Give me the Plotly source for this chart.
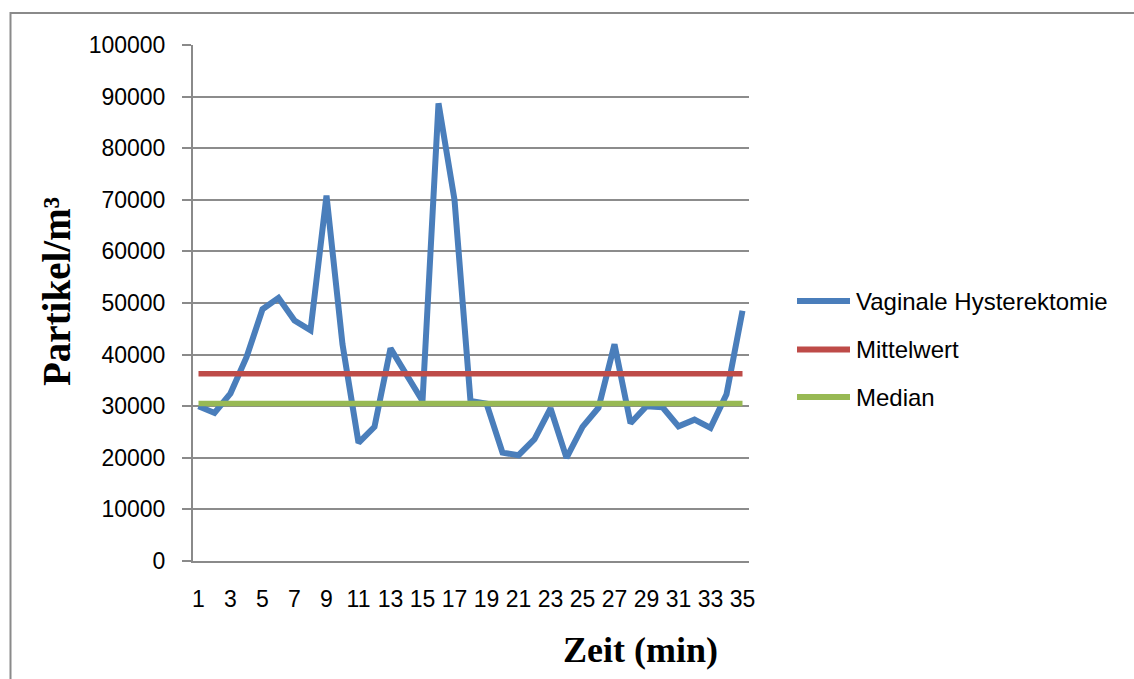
import numpy as np
import plotly.graph_objects as go

# Particle counts per minute during the procedure
minutes = list(range(1, 36))
particles = [
    30000, 28700, 32500, 39500, 48800, 51000, 46600, 44700, 70800, 42000,
    22900, 26000, 41200, 36000, 31000, 88700, 70000, 31000, 30500, 21000,
    20500, 23600, 29600, 20000, 26000, 29700, 42000, 26700, 30000, 29800,
    26100, 27400, 25800, 32300, 48500,
]
series_names = ["Vaginale Hysterektomie", "Mittelwert", "Median"]
series_colors = ["#4A7EBB", "#BE4B48", "#98B954"]
y_ticks = list(range(0, 100001, 10000))
x_ticks = list(range(1, 36, 2))

mean_val = float(np.mean(particles))
median_val = float(np.median(particles))

# plot area in pixels (page is 1134 x 679)
W, H = 1134, 679
L, R, T, B = 193, 749, 45, 561


def px(x):
    return (x - L) / (R - L)


def py(y):
    return (B - y) / (B - T)


fig = go.Figure()
fig.add_trace(go.Scatter(
    x=minutes, y=particles, mode="lines", name=series_names[0],
    line=dict(color=series_colors[0], width=6), showlegend=False,
))
fig.add_trace(go.Scatter(
    x=minutes, y=[mean_val] * len(minutes), mode="lines", name=series_names[1],
    line=dict(color=series_colors[1], width=5.5), showlegend=False,
))
fig.add_trace(go.Scatter(
    x=minutes, y=[median_val] * len(minutes), mode="lines", name=series_names[2],
    line=dict(color=series_colors[2], width=5.5), showlegend=False,
))

tick_font = dict(family="Liberation Sans, Arial, sans-serif", size=23, color="#000000")
title_font = dict(family="Liberation Serif, Times New Roman, serif", size=36, color="#000000")
ytitle_font = dict(family="Liberation Serif, Times New Roman, serif", size=39, color="#000000")

shapes = [
    # outer frame of the chart
    dict(type="rect", xref="paper", yref="paper",
         x0=px(10.5), x1=px(1145), y0=py(13), y1=py(700),
         line=dict(color="#8a8a8a", width=2), fillcolor="rgba(0,0,0,0)", layer="below"),
]
annotations = [
    dict(text="<b>Zeit (min)</b>", xref="paper", yref="paper",
         x=px(640), y=py(650), showarrow=False, font=title_font,
         xanchor="center", yanchor="middle"),
    dict(text="<b>Partikel/m³</b>", xref="paper", yref="paper",
         x=px(56), y=py(292), showarrow=False, font=ytitle_font, textangle=-90,
         xanchor="center", yanchor="middle"),
]

# legend drawn as line samples with labels
legend_rows = [301, 349.5, 397]
for name, color, ry in zip(series_names, series_colors, legend_rows):
    shapes.append(dict(type="line", xref="paper", yref="paper",
                       x0=px(797), x1=px(850), y0=py(ry), y1=py(ry),
                       line=dict(color=color, width=6)))
    annotations.append(dict(text=name, xref="paper", yref="paper",
                            x=px(854), y=py(ry), showarrow=False,
                            xanchor="left", yanchor="middle",
                            font=dict(family="Liberation Sans, Arial, sans-serif",
                                      size=24, color="#000000")))

fig.update_layout(
    width=W, height=H,
    margin=dict(l=L, r=W - R, t=T, b=H - B, pad=0),
    paper_bgcolor="#ffffff", plot_bgcolor="#ffffff",
    showlegend=False,
    shapes=shapes,
    annotations=annotations,
    xaxis=dict(
        range=[1 - 5.5 / 16, 35 + 6.5 / 16],
        tickmode="array", tickvals=x_ticks, ticktext=[str(v) for v in x_ticks],
        showgrid=False, zeroline=False,
        showline=True, linecolor="#8a8a8a", linewidth=2,
        ticks="", tickfont=tick_font, ticklabelstandoff=16,
    ),
    yaxis=dict(
        range=[0, 100000],
        tickmode="array", tickvals=y_ticks, ticktext=[str(v) for v in y_ticks],
        showgrid=True, gridcolor="#8c8c8c", gridwidth=1.5,
        zeroline=False,
        showline=True, linecolor="#8a8a8a", linewidth=2,
        ticks="outside", ticklen=9, tickcolor="#8a8a8a", tickwidth=1.5,
        tickfont=tick_font, ticklabelstandoff=12,
    ),
)

fig.write_html("out.html")
